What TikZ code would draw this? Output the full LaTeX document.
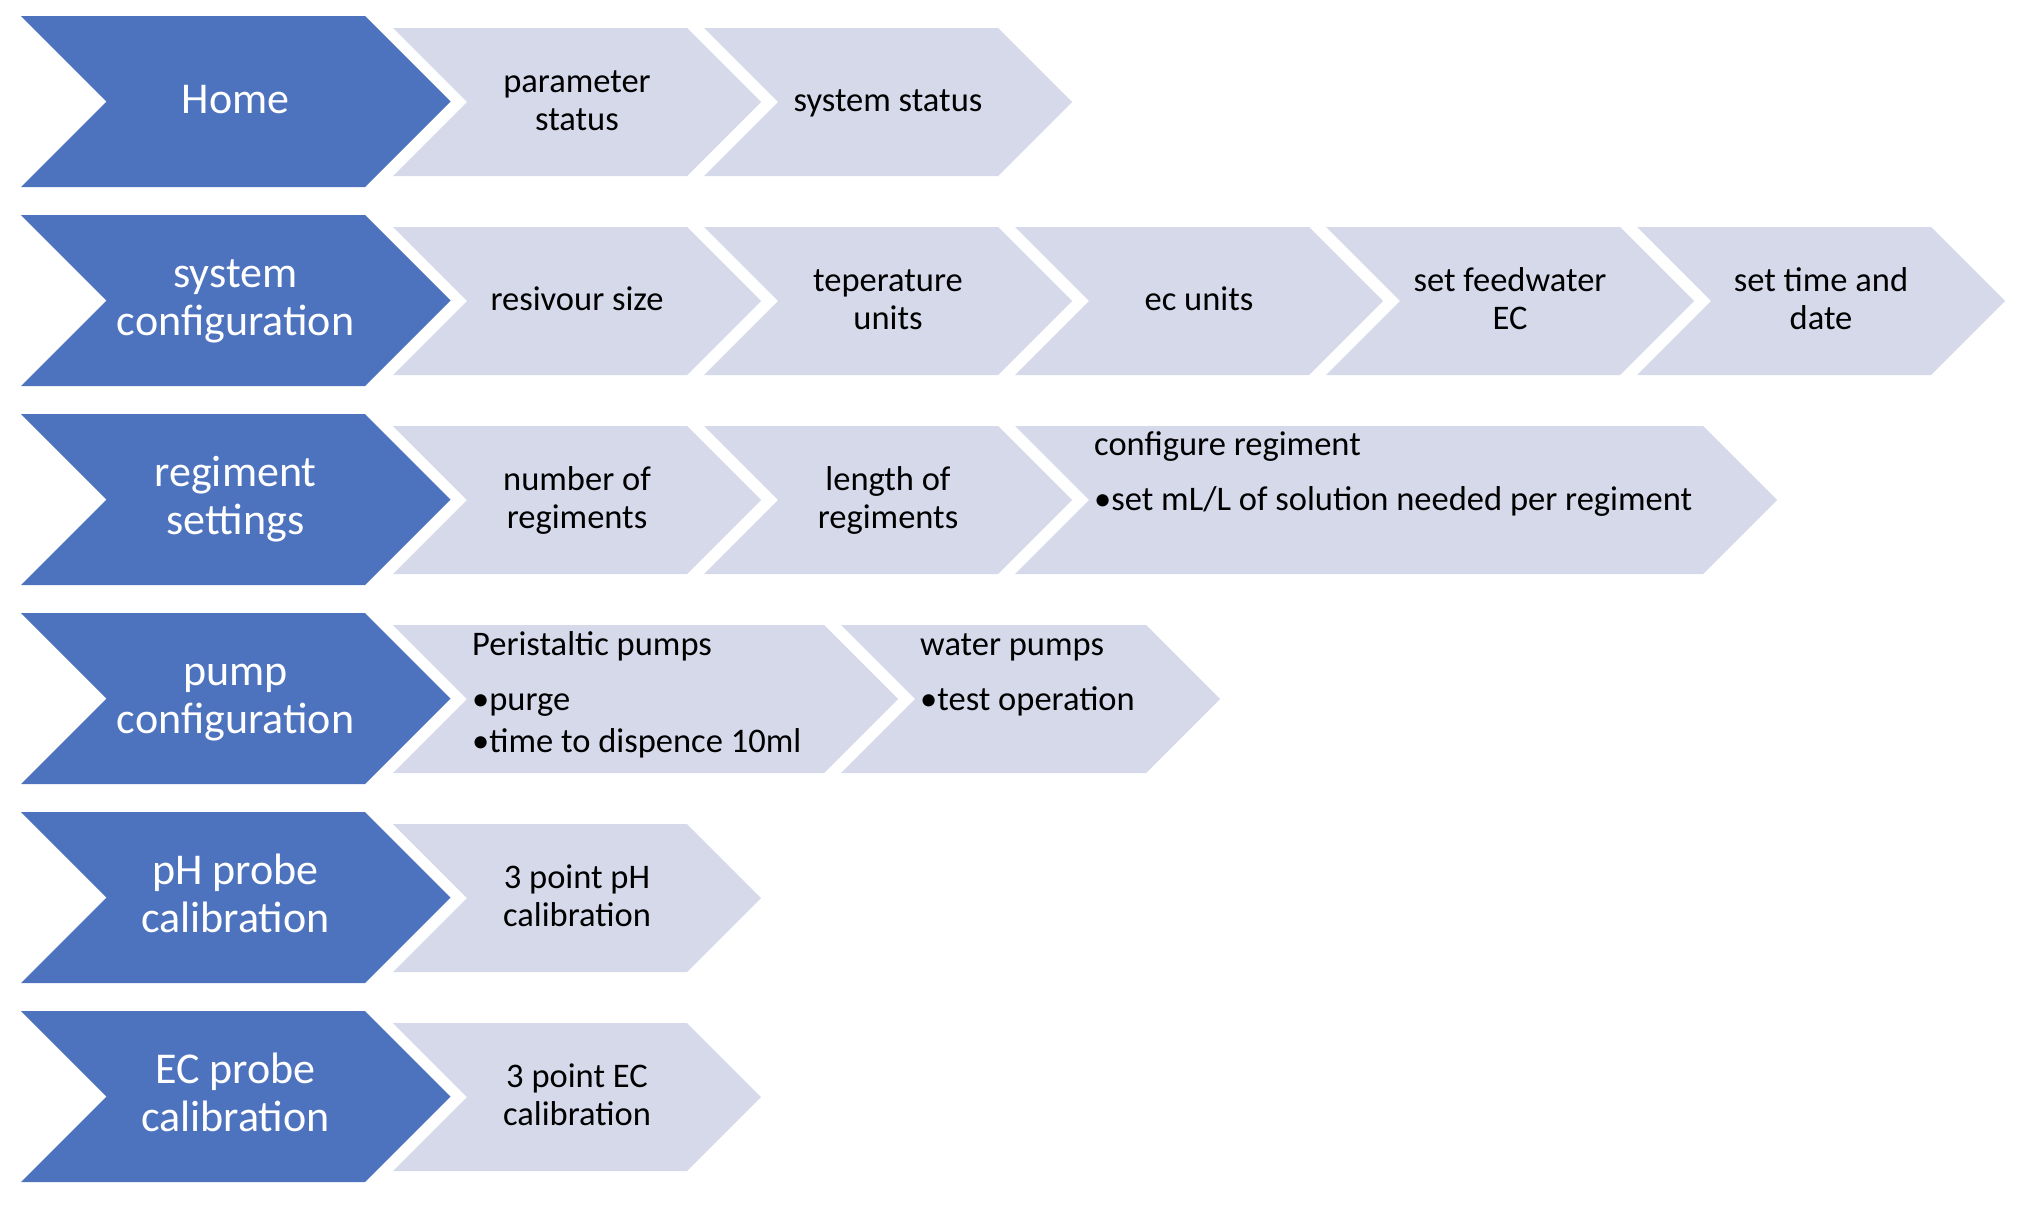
\documentclass[tikz,border=0pt]{standalone}
\usepackage{fontspec}
\setmainfont{Carlito}
\definecolor{chevblue}{HTML}{4E73BE}
\definecolor{chevlight}{HTML}{D5D9EA}
\tikzset{
  bluetext/.style={text=white, font=\fontsize{44}{48}\selectfont, align=center, inner sep=0pt, anchor=base},
  lighttext/.style={text=black, font=\fontsize{34.5}{37.3}\selectfont, align=center, inner sep=0pt, anchor=base},
  bullettext/.style={text=black, font=\fontsize{34.5}{37.3}\selectfont, align=left, inner sep=0pt, anchor=base west},
}
% fill colour, left x, top y, body width, height
\newcommand\chevshape[5]{%
  \fill[#1] (#2,#3) -- ++(#4,0) -- ++({#5/2},{#5/2}) -- ++({-#5/2},{#5/2}) -- ++({-#4},0) -- ++({#5/2},{-#5/2}) -- cycle;}
\newcommand\bluechev[1]{\chevshape{chevblue}{21}{#1}{344}{171}}
\newcommand\lightchev[3]{\chevshape{chevlight}{#1}{#2}{#3}{148}}
\begin{document}
\begin{tikzpicture}[x=1pt,y=-1pt]
\useasboundingbox (0,0) rectangle (2034,1210);
\fill[white] (0,0) rectangle (2034,1210);

% ---- row 1: Home
\bluechev{16}
\lightchev{393}{28}{294}
\lightchev{704}{28}{294}
\node[bluetext] (home) at (235.5,113) {Home};
\node[lighttext] (paramstatus) at (577,130) {parameter\\status};
\node[lighttext] (sysstatus) at (888,111.5) {system status};

% ---- row 2: system configuration
\bluechev{215}
\lightchev{393}{227}{294}
\lightchev{704}{227}{294}
\lightchev{1015}{227}{294}
\lightchev{1326}{227}{294}
\lightchev{1637}{227}{294}
\node[bluetext] (syscfg) at (235.5,335) {system\\configuration};
\node[lighttext] (resivour) at (577,310.5) {resivour size};
\node[lighttext] (teperature) at (888,329) {teperature\\units};
\node[lighttext] (ecunits) at (1199,310.5) {ec units};
\node[lighttext] (feedwater) at (1510,329) {set feedwater\\EC};
\node[lighttext] (timedate) at (1821,329) {set time and\\date};

% ---- row 3: regiment settings
\bluechev{414}
\lightchev{393}{426}{294}
\lightchev{704}{426}{294}
\lightchev{1015}{426}{688}
\node[bluetext] (regset) at (235.5,534) {regiment\\settings};
\node[lighttext] (numreg) at (577,528) {number of\\regiments};
\node[lighttext] (lenreg) at (888,528) {length of\\regiments};
\node[bullettext] (cfgreg) at (1094,510) {configure regiment\\[17.7pt]•set mL/L of solution needed per regiment};

% ---- row 4: pump configuration
\bluechev{613}
\lightchev{393}{625}{431}
\lightchev{841}{625}{305}
\node[bluetext] (pumpcfg) at (235.5,733) {pump\\configuration};
\node[bullettext] (peristaltic) at (472,752) {Peristaltic pumps\\[17.7pt]•purge\\[4.7pt]•time to dispence 10ml};
\node[bullettext] (waterpumps) at (920,710) {water pumps\\[17.7pt]•test operation};

% ---- row 5: pH probe calibration
\bluechev{812}
\lightchev{393}{824}{294}
\node[bluetext] (phcal) at (235.5,932) {pH probe\\calibration};
\node[lighttext] (ph3) at (577,926) {3 point pH\\calibration};

% ---- row 6: EC probe calibration
\bluechev{1011}
\lightchev{393}{1023}{294}
\node[bluetext] (eccal) at (235.5,1131) {EC probe\\calibration};
\node[lighttext] (ec3) at (577,1125) {3 point EC\\calibration};
\end{tikzpicture}
\end{document}
